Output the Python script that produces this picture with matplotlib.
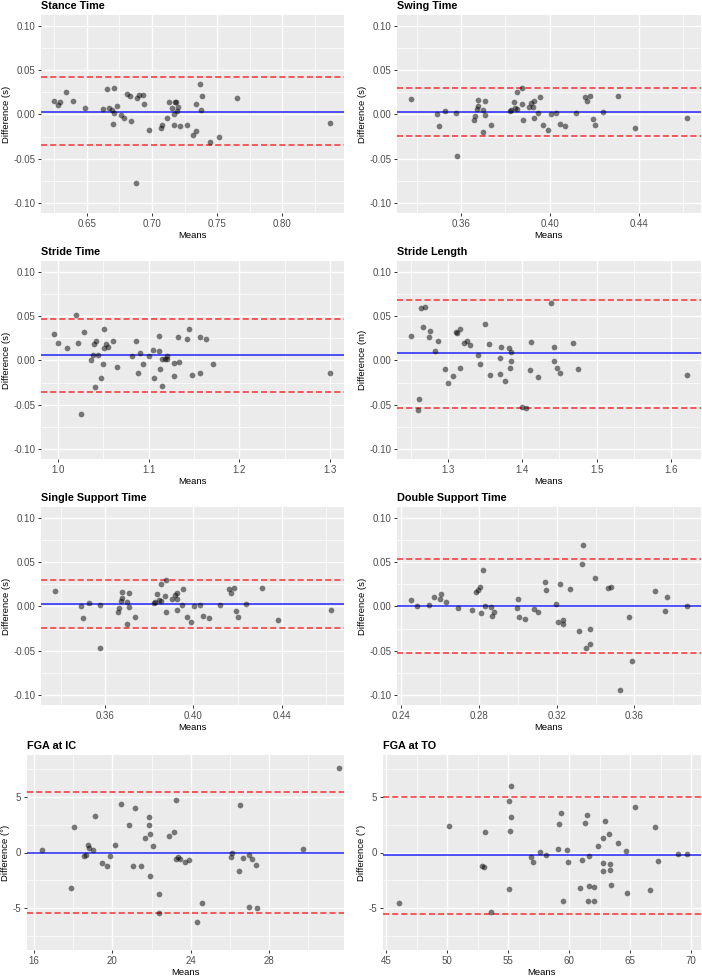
"""Bland-Altman plots for eight gait parameters, in a 4 x 2 grid."""
import matplotlib
matplotlib.use("Agg")
import matplotlib.pyplot as plt
from matplotlib.ticker import MultipleLocator

plt.rcParams["font.family"] = ["Liberation Sans", "DejaVu Sans"]

W, H = 702, 976          # output size in pixels (dpi 100)
BG = "#EBEBEB"

# ---- data ------------------------------------------------------------------
stance_means = [0.6252, 0.6278, 0.6298, 0.6344, 0.6398, 0.6487, 0.6623, 0.6658,
                0.6671, 0.6697, 0.6709, 0.6712, 0.6699, 0.6732, 0.6766, 0.6786,
                0.6809, 0.6832, 0.6842, 0.6883, 0.6899, 0.6934, 0.6939, 0.6881,
                0.6975, 0.7067, 0.7077, 0.7118, 0.7129, 0.7154, 0.7167, 0.7177,
                0.7187, 0.7192, 0.7203, 0.7169, 0.7215, 0.7269, 0.7312, 0.7341,
                0.7338, 0.7369, 0.7384, 0.7374, 0.7448, 0.7514, 0.7655, 0.8368]
stance_diffs = [0.0154, 0.0101, 0.0139, 0.0255, 0.0150, 0.0071, 0.0064, 0.0285,
                0.0075, 0.0045, 0.0300, 0.0019, -0.0109, 0.0097, -0.0011, -0.0037,
                0.0228, 0.0206, -0.0071, 0.0184, 0.0217, 0.0217, 0.0116, -0.0775,
                -0.0172, -0.0157, -0.0120, -0.0037, 0.0139, 0.0071, 0.0007, 0.0139,
                0.0139, 0.0041, 0.0086, -0.0124, -0.0131, -0.0116, -0.0232, -0.0183,
                0.0116, 0.0341, 0.0210, 0.0049, -0.0315, -0.0255, 0.0187, -0.0097]

swing_means = [0.3375, 0.3492, 0.3502, 0.3529, 0.3579, 0.3580, 0.3660, 0.3663,
               0.3672, 0.3678, 0.3678, 0.3701, 0.3707, 0.3708, 0.3701, 0.3735,
               0.3821, 0.3827, 0.3837, 0.3842, 0.3851, 0.3854, 0.3873, 0.3876,
               0.3878, 0.3905, 0.3917, 0.3927, 0.3926, 0.3927, 0.3947, 0.3954,
               0.3969, 0.3990, 0.4004, 0.4029, 0.4044, 0.4070, 0.4118, 0.4160,
               0.4169, 0.4183, 0.4193, 0.4203, 0.4239, 0.4308, 0.4383, 0.4619]
swing_diffs = [0.0172, 0.0004, -0.0135, 0.0041, 0.0019, -0.0464, -0.0067, -0.0015,
               0.0056, 0.0094, 0.0165, 0.0052, -0.0004, 0.0150, -0.0195, -0.0124,
               0.0034, 0.0049, 0.0139, 0.0067, 0.0060, 0.0255, 0.0120, 0.0296,
               -0.0064, 0.0079, 0.0131, 0.0157, 0.0082, -0.0041, 0.0019, 0.0198,
               -0.0120, -0.0176, 0.0000, 0.0015, -0.0105, -0.0135, 0.0019, 0.0191,
               0.0154, 0.0213, -0.0056, -0.0120, 0.0022, 0.0213, -0.0154, -0.0045]

stride_time_means = [0.9960, 1.0004, 1.0103, 1.0202, 1.0221, 1.0287, 1.0368, 1.0390,
                     1.0393, 1.0404, 1.0423, 1.0437, 1.0257, 1.0478, 1.0496, 1.0511,
                     1.0511, 1.0533, 1.0551, 1.0610, 1.0654, 1.0812, 1.0864, 1.0879,
                     1.0904, 1.0941, 1.1000, 1.1051, 1.1055, 1.1114, 1.1118, 1.1125,
                     1.1147, 1.1151, 1.1180, 1.1202, 1.1198, 1.1276, 1.1276, 1.1323,
                     1.1331, 1.1423, 1.1448, 1.1474, 1.1566, 1.1566, 1.1632, 1.1709,
                     1.3003]
stride_time_diffs = [0.0301, 0.0195, 0.0135, 0.0511, 0.0195, 0.0320, 0.0008, 0.0056,
                     0.0188, -0.0304, 0.0218, 0.0056, -0.0605, -0.0203, -0.0038, 0.0353,
                     0.0143, 0.0184, 0.0150, 0.0218, -0.0079, 0.0053, 0.0222, -0.0143,
                     0.0086, -0.0038, 0.0049, 0.0120, -0.0195, 0.0271, 0.0101, -0.0101,
                     -0.0293, 0.0015, 0.0019, 0.0049, 0.0019, -0.0034, -0.0177, 0.0263,
                     -0.0019, 0.0241, 0.0353, -0.0162, 0.0267, -0.0143, 0.0237, -0.0041,
                     -0.0139]

stride_len_means = [1.2502, 1.2610, 1.2596, 1.2641, 1.2686, 1.2668, 1.2749, 1.2758,
                    1.2830, 1.2861, 1.2960, 1.2996, 1.3072, 1.3108, 1.3117, 1.3166,
                    1.3166, 1.3211, 1.3260, 1.3300, 1.3404, 1.3430, 1.3498, 1.3552,
                    1.3569, 1.3700, 1.3700, 1.3713, 1.3762, 1.3825, 1.3839, 1.3852,
                    1.3852, 1.4000, 1.4054, 1.4108, 1.4121, 1.4215, 1.4390, 1.4430,
                    1.4430, 1.4462, 1.4511, 1.4682, 1.4744, 1.6215]
stride_len_diffs = [0.0274, -0.0431, -0.0558, 0.0588, 0.0600, 0.0379, 0.0266, 0.0330,
                    0.0101, 0.0221, -0.0101, -0.0255, -0.0180, 0.0322, 0.0307, 0.0352,
                    -0.0082, 0.0195, 0.0221, 0.0169, 0.0056, -0.0041, 0.0409, 0.0180,
                    -0.0169, 0.0030, -0.0150, 0.0146, -0.0232, 0.0139, -0.0082, 0.0097,
                    -0.0004, -0.0521, -0.0540, -0.0112, 0.0206, -0.0184, 0.0652, 0.0146,
                    -0.0007, -0.0090, -0.0142, 0.0199, -0.0094, -0.0161]

# single support looks identical to swing time in the source figure
single_means = list(swing_means)
single_diffs = list(swing_diffs)

double_means = [0.2450, 0.2482, 0.2541, 0.2570, 0.2601, 0.2603, 0.2628, 0.2692,
                0.2762, 0.2785, 0.2795, 0.2803, 0.2819, 0.2810, 0.2831, 0.2864,
                0.2865, 0.2879, 0.2997, 0.3003, 0.3004, 0.3039, 0.3085, 0.3104,
                0.3142, 0.3145, 0.3197, 0.3205, 0.3215, 0.3234, 0.3234, 0.3269,
                0.3313, 0.3329, 0.3337, 0.3351, 0.3372, 0.3373, 0.3396, 0.3464,
                0.3481, 0.3571, 0.3525, 0.3589, 0.3705, 0.3760, 0.3770, 0.3873]
double_diffs = [0.0075, 0.0004, 0.0011, 0.0109, 0.0086, 0.0135, 0.0049, -0.0019,
                -0.0038, 0.0161, 0.0180, 0.0221, 0.0409, -0.0075, 0.0004, -0.0011,
                -0.0109, -0.0064, -0.0023, 0.0086, -0.0120, -0.0146, -0.0030, -0.0068,
                0.0278, 0.0188, 0.0026, -0.0180, 0.0255, -0.0150, -0.0195, 0.0191,
                -0.0281, 0.0473, 0.0694, -0.0473, -0.0255, -0.0424, 0.0319, 0.0203,
                0.0214, -0.0116, -0.0946, -0.0612, 0.0169, -0.0049, 0.0105, 0.0004]

fga_ic_means = [16.39, 17.89, 18.02, 18.55, 18.67, 18.75, 18.82, 19.03, 19.11, 19.47,
                19.72, 19.86, 20.11, 20.45, 20.85, 21.03, 21.15, 21.46, 21.68, 21.85,
                21.85, 21.92, 21.93, 22.07, 22.36, 22.39, 22.90, 23.14, 23.24, 23.24,
                23.34, 23.46, 23.68, 23.92, 24.33, 24.55, 26.05, 26.10, 26.46, 26.52,
                26.66, 26.95, 26.95, 27.10, 27.32, 27.36, 29.74, 31.56]
fga_ic_diffs = [0.24, -3.18, 2.34, -0.33, -0.24, 0.66, 0.45, 0.27, 3.30, -0.99,
                -1.26, -0.36, 0.72, 4.35, 2.52, -1.23, 4.05, -1.26, 1.32, 3.18,
                2.46, -2.16, 1.65, 0.60, -3.72, -5.47, 1.50, 1.86, 4.77, -0.57,
                -0.42, -0.57, -0.87, -0.72, -6.31, -4.53, -0.42, 0.00, -1.65, 4.29,
                -0.48, -0.24, -4.89, -0.63, -1.17, -5.04, 0.33, 7.63]

fga_to_means = [46.04, 50.16, 52.86, 53.05, 53.13, 53.57, 55.05, 55.07, 55.15, 55.21,
                55.26, 56.90, 57.01, 57.61, 58.10, 59.05, 59.14, 59.35, 59.52, 59.79,
                59.87, 60.88, 61.07, 61.29, 61.48, 61.56, 61.61, 61.64, 62.00, 62.05,
                62.33, 62.77, 62.79, 62.74, 62.96, 63.28, 63.31, 63.31, 63.45, 63.97,
                64.68, 64.73, 65.36, 66.64, 67.00, 67.24, 68.91, 69.61]
fga_to_diffs = [-4.53, 2.40, -1.23, -1.35, 1.83, -5.38, 4.65, -3.27, 1.92, 6.04,
                3.18, -0.42, -0.90, 0.06, -0.27, 0.30, 2.61, 3.57, -4.41, 0.21,
                -0.90, -3.18, -0.66, 2.70, 3.39, -4.35, -0.33, -3.00, -3.09, -4.35,
                0.60, 1.32, -0.99, -1.71, 2.82, 1.71, -1.02, -1.62, -2.94, 0.90,
                0.15, -3.63, 4.11, -3.36, 2.28, -0.78, -0.18, -0.12]

titles = ["Stance Time", "Swing Time", "Stride Time", "Stride Length",
          "Single Support Time", "Double Support Time", "FGA at IC", "FGA at TO"]
ylabels = ["Difference (s)", "Difference (s)", "Difference (s)", "Difference (m)",
           "Difference (s)", "Difference (s)", "Difference (°)", "Difference (°)"]
# bias (mean difference) and the limits of agreement, per panel
bias = [0.003, 0.0026, 0.0056, 0.0079, 0.0026, 0.0008, -0.03, -0.21]
upper = [0.0419, 0.030, 0.0466, 0.0686, 0.030, 0.0537, 5.50, 5.04]
lower = [-0.0348, -0.0243, -0.0350, -0.054, -0.0243, -0.0525, -5.47, -5.56]
xlims = [(0.6147, 0.8475), (0.3310, 0.4681), (0.9809, 1.3158), (1.231, 1.6404),
         (0.3310, 0.4681), (0.2376, 0.3943), (15.63, 31.83), (44.73, 70.79)]
xmajor = [0.05, 0.04, 0.1, 0.1, 0.04, 0.04, 4, 5]
xfmt = ["{:.2f}", "{:.2f}", "{:.1f}", "{:.1f}", "{:.2f}", "{:.2f}", "{:.0f}", "{:.0f}"]

series = [(stance_means, stance_diffs), (swing_means, swing_diffs),
          (stride_time_means, stride_time_diffs), (stride_len_means, stride_len_diffs),
          (single_means, single_diffs), (double_means, double_diffs),
          (fga_ic_means, fga_ic_diffs), (fga_to_means, fga_to_diffs)]

# panel boxes in pixels: (left, top, right, bottom)
boxes = [(40.7, 15, 344.3, 213), (396.7, 15, 701, 213),
         (40.7, 261, 344.3, 459), (396.7, 261, 701, 459),
         (40.7, 507, 344.3, 705), (396.7, 507, 701, 705),
         (26.7, 755, 344.3, 950), (382.7, 755, 701, 950)]


def style(ax):
    ax.set_facecolor(BG)
    for s in ax.spines.values():
        s.set_visible(False)
    ax.grid(which="major", color="white", lw=1.0)
    ax.grid(which="minor", color="white", lw=0.5)
    ax.set_axisbelow(True)
    ax.tick_params(which="major", length=2.5, width=0.7, color="#333333",
                   labelcolor="#4D4D4D", labelsize=7, pad=1.5)
    ax.tick_params(which="minor", length=0)


fig = plt.figure(figsize=(W / 100, H / 100), dpi=100)

for i, (m, d) in enumerate(series):
    l, t, r, b = boxes[i]
    ax = fig.add_axes([l / W, 1 - b / H, (r - l) / W, (b - t) / H])
    style(ax)

    ax.scatter(m, d, s=17, color="black", alpha=0.5, linewidths=0, zorder=3)
    ax.axhline(bias[i], color="blue", lw=1.1, alpha=0.85, zorder=2)
    for lim in (upper[i], lower[i]):
        ax.axhline(lim, color="red", lw=1.1, alpha=0.8, dashes=(4, 2), zorder=2)

    ax.set_xlim(*xlims[i])
    ax.xaxis.set_major_locator(MultipleLocator(xmajor[i]))
    ax.xaxis.set_minor_locator(MultipleLocator(xmajor[i] / 2))
    ax.xaxis.set_major_formatter(plt.FuncFormatter(lambda v, p, f=xfmt[i]: f.format(v)))
    if i < 6:
        ax.set_ylim(-0.111, 0.112)
        ax.yaxis.set_major_locator(MultipleLocator(0.05))
        ax.yaxis.set_minor_locator(MultipleLocator(0.025))
        ax.yaxis.set_major_formatter(plt.FuncFormatter(lambda v, p: f"{v:.2f}"))
    else:
        ax.set_ylim(-8.8, 8.8)
        ax.yaxis.set_major_locator(MultipleLocator(5))
        ax.yaxis.set_minor_locator(MultipleLocator(2.5))
        ax.yaxis.set_major_formatter(plt.FuncFormatter(lambda v, p: f"{v:.0f}"))

    ax.set_xlabel("Means", fontsize=6.8, color="black", labelpad=1.5)
    ax.set_ylabel(ylabels[i], fontsize=6.8, color="black", labelpad=1.5)
    ax.set_title(titles[i], loc="left", fontsize=7.8, fontweight="bold", pad=4)

fig.savefig("out.png", dpi=100)
